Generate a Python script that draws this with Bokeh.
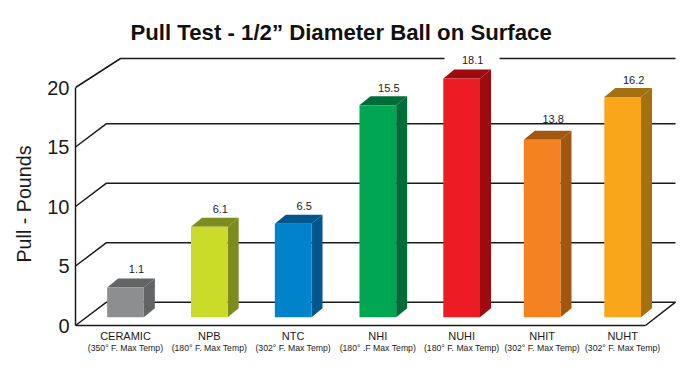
from bokeh.plotting import figure
from bokeh.embed import file_html
from bokeh.resources import INLINE
from bokeh.models import LinearAxis, FixedTicker, Range1d, ColumnDataSource
from bokeh.core.properties import value

# ---- data ----
categories = ["CERAMIC", "NPB", "NTC", "NHI", "NUHI", "NHIT", "NUHT"]
sublabels = ["(350° F. Max Temp)", "(180° F. Max Temp)", "(302° F. Max Temp)", "(180° .F Max Temp)",
             "(180° F. Max Temp)", "(302° F. Max Temp)", "(302° F. Max Temp)"]
printed_values = ["1.1", "6.1", "6.5", "15.5", "18.1", "13.8", "16.2"]
bar_tops = [3.2, 8.3, 8.55, 18.5, 20.75, 15.6, 19.2]
y_ticks = [0, 5, 10, 15, 20]

# ---- styling / layout ----
front_colors = ["#8c8e90", "#cbdb2a", "#0083ca", "#00a651", "#ed1c24", "#f58220", "#faa61a"]
side_colors = ["#636466", "#7d8c1e", "#00568d", "#006c38", "#9e0b0f", "#a3560e", "#a5700f"]
slots = [0, 1.01, 2.02, 3.04, 4.05, 5.02, 5.99]
label_lift = [-18, -18, -18, -17, -19, -21, -17]
PX_X = 83.0
PX_Y = 11.9
bar_floor = 0.7
bar_w = 36.7 / PX_X
dx_bar, dy_bar = 11 / PX_X, 9 / PX_Y
dx_wall, dy_wall = 31 / PX_X, 23.3 / PX_Y
INK = "#1a1a1a"
FONT = "Liberation Sans"

x0 = -50 / PX_X
x1 = 559 / PX_X
y0 = -30 / PX_Y
y1 = 273 / PX_Y

p = figure(width=684, height=355, output_backend="svg", toolbar_location=None,
           x_range=Range1d(x0, x1), y_range=Range1d(y0, y1),
           min_border_left=75, min_border_right=0, min_border_top=52, min_border_bottom=0,
           outline_line_color=None, x_axis_location=None, y_axis_location=None)
p.grid.visible = False
p.background_fill_color = "white"

# title
p.title.text = "Pull Test - 1/2” Diameter Ball on Surface"
p.title.text_font = FONT
p.title.text_font_size = "22.2px"
p.title.text_font_style = "bold"
p.title.text_color = "#111111"
p.title.align = "left"
p.title.offset = 55
p.title.standoff = 15

# y axis
ya = LinearAxis(bounds=(0, 20), ticker=FixedTicker(ticks=y_ticks))
ya.axis_line_color = INK
ya.axis_line_width = 1.5
ya.major_tick_line_color = None
ya.major_tick_out = 0
ya.major_tick_in = 0
ya.minor_tick_line_color = None
ya.major_label_text_font = FONT
ya.major_label_text_font_size = "20px"
ya.major_label_text_color = INK
ya.major_label_standoff = 6
ya.axis_label = "Pull - Pounds"
ya.axis_label_text_font = FONT
ya.axis_label_text_font_size = "19.7px"
ya.axis_label_text_font_style = "normal"
ya.axis_label_text_color = INK
ya.axis_label_standoff = 9
p.add_layout(ya, "left")

# x axes pinned to the floor: names, then temperature notes
right_end = (645 - 125) / PX_X
xa = LinearAxis(bounds=(x0, right_end), ticker=FixedTicker(ticks=slots), fixed_location=0,
                major_label_overrides={s: c for s, c in zip(slots, categories)})
xa.axis_line_color = INK
xa.axis_line_width = 1.5
xa.major_tick_line_color = None
xa.major_tick_out = 0
xa.major_tick_in = 0
xa.minor_tick_line_color = None
xa.major_label_text_font = FONT
xa.major_label_text_font_size = "11px"
xa.major_label_text_color = INK
xa.major_label_standoff = 4
p.add_layout(xa, "below")

xb = LinearAxis(ticker=FixedTicker(ticks=slots), fixed_location=0,
                major_label_overrides={s: c for s, c in zip(slots, sublabels)})
xb.axis_line_color = None
xb.major_tick_line_color = None
xb.major_tick_out = 0
xb.major_tick_in = 0
xb.minor_tick_line_color = None
xb.major_label_text_font = FONT
xb.major_label_text_font_size = "8.7px"
xb.major_label_text_color = INK
xb.major_label_standoff = 17
p.add_layout(xb, "below")

# wall and floor lines
wall_x_end = right_end + dx_wall - 1 / PX_X
back_y = [t + dy_wall for t in y_ticks]
p.multi_line(xs=[[x0, x0 + dx_wall, wall_x_end] for t in y_ticks[:-1]],
             ys=[[t, b, b] for t, b in zip(y_ticks[:-1], back_y[:-1])],
             line_color=INK, line_width=1.5)
p.multi_line(xs=[[right_end, wall_x_end]], ys=[[0, back_y[0]]], line_color=INK, line_width=1.5)
# top line of the wall sits slightly deeper than the others
top_dx, top_dy = 45 / PX_X, 29 / PX_Y
p.line(x=[x0, x0 + top_dx, wall_x_end], y=[y_ticks[-1], y_ticks[-1] + top_dy, y_ticks[-1] + top_dy],
       line_color=INK, line_width=1.5)
p.rect(x=[slots[4] + 0.125], y=[y_ticks[-1] + top_dy], width=[55 / PX_X], height=[6 / PX_Y],
       fill_color="white", line_color=None)

# bars
bar_left = [s - bar_w / 2 for s in slots]
bar_right = [s + bar_w / 2 for s in slots]
side_xs = [[r, r + dx_bar, r + dx_bar, r] for r in bar_right]
side_ys = [[bar_floor, bar_floor + dy_bar, t + dy_bar, t] for t in bar_tops]
top_xs = [[l, l + dx_bar, r + dx_bar, r] for l, r in zip(bar_left, bar_right)]
top_ys = [[t, t + dy_bar, t + dy_bar, t] for t in bar_tops]
p.patches(xs=side_xs, ys=side_ys, fill_color=side_colors, line_color=None)
p.patches(xs=top_xs, ys=top_ys, fill_color=side_colors, line_color=None)
p.vbar(x=slots, width=bar_w, bottom=bar_floor, top=bar_tops, fill_color=front_colors, line_color=None)

# printed values
src = ColumnDataSource(dict(x=[s + dx_bar for s in slots], y=bar_tops, t=printed_values, o=label_lift))
p.text(x="x", y="y", text="t", y_offset="o", source=src, text_font=value(FONT), text_font_size="11px",
       text_color=INK, text_align="center", text_baseline="middle")

open("out.html", "w").write(file_html(p, INLINE))
